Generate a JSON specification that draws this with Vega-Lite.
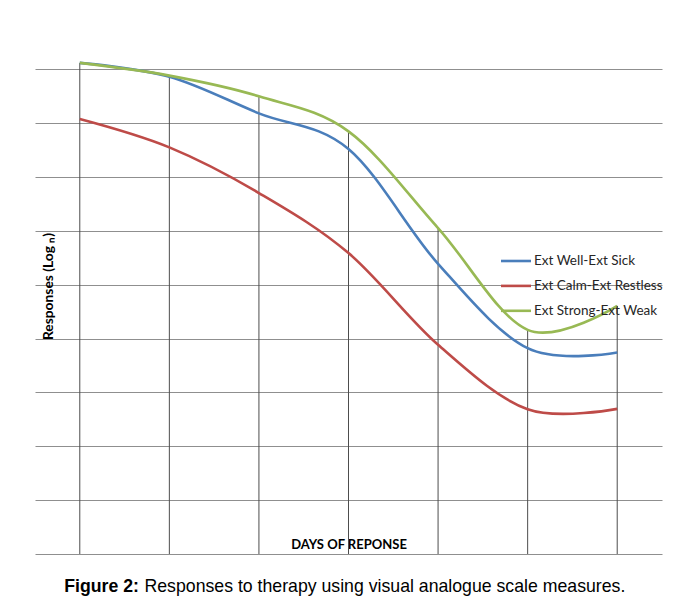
{
  "$schema": "https://vega.github.io/schema/vega-lite/v6.json",
  "width": 627,
  "height": 501,
  "autosize": {"type": "none"},
  "padding": {"left": 35, "top": 53, "right": 19, "bottom": 50},
  "background": "white",
  "config": {
    "view": {"stroke": null},
    "axis": {"gridColor": "#8f8f8f", "gridWidth": 1, "gridOpacity": 1}
  },
  "data": {
    "values": [
      {"day": 1, "series": "Ext Well-Ext Sick", "value": 9.116},
      {"day": 2, "series": "Ext Well-Ext Sick", "value": 8.86},
      {"day": 3, "series": "Ext Well-Ext Sick", "value": 8.18},
      {"day": 4, "series": "Ext Well-Ext Sick", "value": 7.518},
      {"day": 5, "series": "Ext Well-Ext Sick", "value": 5.387},
      {"day": 6, "series": "Ext Well-Ext Sick", "value": 3.821},
      {"day": 7, "series": "Ext Well-Ext Sick", "value": 3.74},
      {"day": 1, "series": "Ext Calm-Ext Restless", "value": 8.075},
      {"day": 2, "series": "Ext Calm-Ext Restless", "value": 7.548},
      {"day": 3, "series": "Ext Calm-Ext Restless", "value": 6.701},
      {"day": 4, "series": "Ext Calm-Ext Restless", "value": 5.586},
      {"day": 5, "series": "Ext Calm-Ext Restless", "value": 3.883},
      {"day": 6, "series": "Ext Calm-Ext Restless", "value": 2.688},
      {"day": 7, "series": "Ext Calm-Ext Restless", "value": 2.694},
      {"day": 1, "series": "Ext Strong-Ext Weak", "value": 9.116},
      {"day": 2, "series": "Ext Strong-Ext Weak", "value": 8.88},
      {"day": 3, "series": "Ext Strong-Ext Weak", "value": 8.495},
      {"day": 4, "series": "Ext Strong-Ext Weak", "value": 7.845},
      {"day": 5, "series": "Ext Strong-Ext Weak", "value": 6.051},
      {"day": 6, "series": "Ext Strong-Ext Weak", "value": 4.161},
      {"day": 7, "series": "Ext Strong-Ext Weak", "value": 4.607}
    ]
  },
  "resolve": {"axis": {"x": "independent", "y": "independent"}},
  "layer": [
    {
      "transform": [{"aggregate": [{"op": "max", "field": "value", "as": "top"}], "groupby": ["day"]}],
      "mark": {"type": "rule", "stroke": "#4d4d4d", "strokeWidth": 1},
      "encoding": {
        "x": {
          "field": "day", "type": "quantitative",
          "scale": {"domain": [0.5, 7.5]},
          "axis": {
            "orient": "top", "labels": false, "ticks": false, "domain": false, "grid": false,
            "title": "Responses to therapy using visual analogue scale measures.",
            "titleFont": "Liberation Sans", "titleFontSize": 17.7, "titleFontWeight": "normal",
            "titleColor": "#000000", "titleAlign": "left", "titleBaseline": "alphabetic",
            "titleX": 109, "titleY": 538.5
          }
        },
        "y": {
          "field": "top", "type": "quantitative",
          "scale": {"domain": [0, 9.3]},
          "axis": {
            "orient": "right", "labels": false, "ticks": false, "domain": false, "grid": false,
            "title": "Figure 2:",
            "titleFont": "Liberation Sans", "titleFontSize": 17.7, "titleFontWeight": "bold",
            "titleColor": "#000000", "titleAngle": 0, "titleAlign": "left", "titleBaseline": "alphabetic",
            "titleX": -598.3, "titleY": 538.5
          }
        },
        "y2": {"datum": 0}
      }
    },
    {
      "mark": {"type": "line", "interpolate": "cardinal", "strokeWidth": 2.6},
      "encoding": {
        "x": {
          "field": "day", "type": "quantitative",
          "scale": {"domain": [0.5, 7.5]},
          "axis": {
            "orient": "bottom", "labels": false, "ticks": false, "domain": false, "grid": false,
            "title": "DAYS OF REPONSE",
            "titleFont": "Lato", "titleFontSize": 13, "titleFontWeight": "bold",
            "titleColor": "#000000", "titleAlign": "center", "titleBaseline": "alphabetic",
            "titleX": 313.5, "titleY": -6
          }
        },
        "y": {
          "field": "value", "type": "quantitative",
          "scale": {"domain": [0, 9.3]},
          "axis": {
            "orient": "left", "labels": false, "ticks": false, "domain": false, "grid": true,
            "values": [0, 1, 2, 3, 4, 5, 6, 7, 8, 9],
            "title": "Responses  (Log ₙ)",
            "titleFont": "Lato", "titleFontSize": 13.8, "titleFontWeight": "bold",
            "titleColor": "#000000", "titleAngle": -90, "titleAlign": "center", "titleBaseline": "alphabetic",
            "titleX": 17.3, "titleY": 233
          }
        },
        "color": {
          "field": "series", "type": "nominal",
          "scale": {
            "domain": ["Ext Well-Ext Sick", "Ext Calm-Ext Restless", "Ext Strong-Ext Weak"],
            "range": ["#4a7ebb", "#be4b48", "#98b954"]
          },
          "legend": {
            "title": null, "orient": "none", "legendX": 472, "legendY": 199,
            "padding": 0, "symbolType": "M-2,0H2", "symbolSize": 225, "symbolStrokeWidth": 2.6,
            "labelOffset": 9, "rowPadding": 8.9,
            "labelFont": "Lato", "labelFontSize": 13.5, "labelColor": "#262626", "labelLimit": 300
          }
        }
      }
    }
  ]
}
